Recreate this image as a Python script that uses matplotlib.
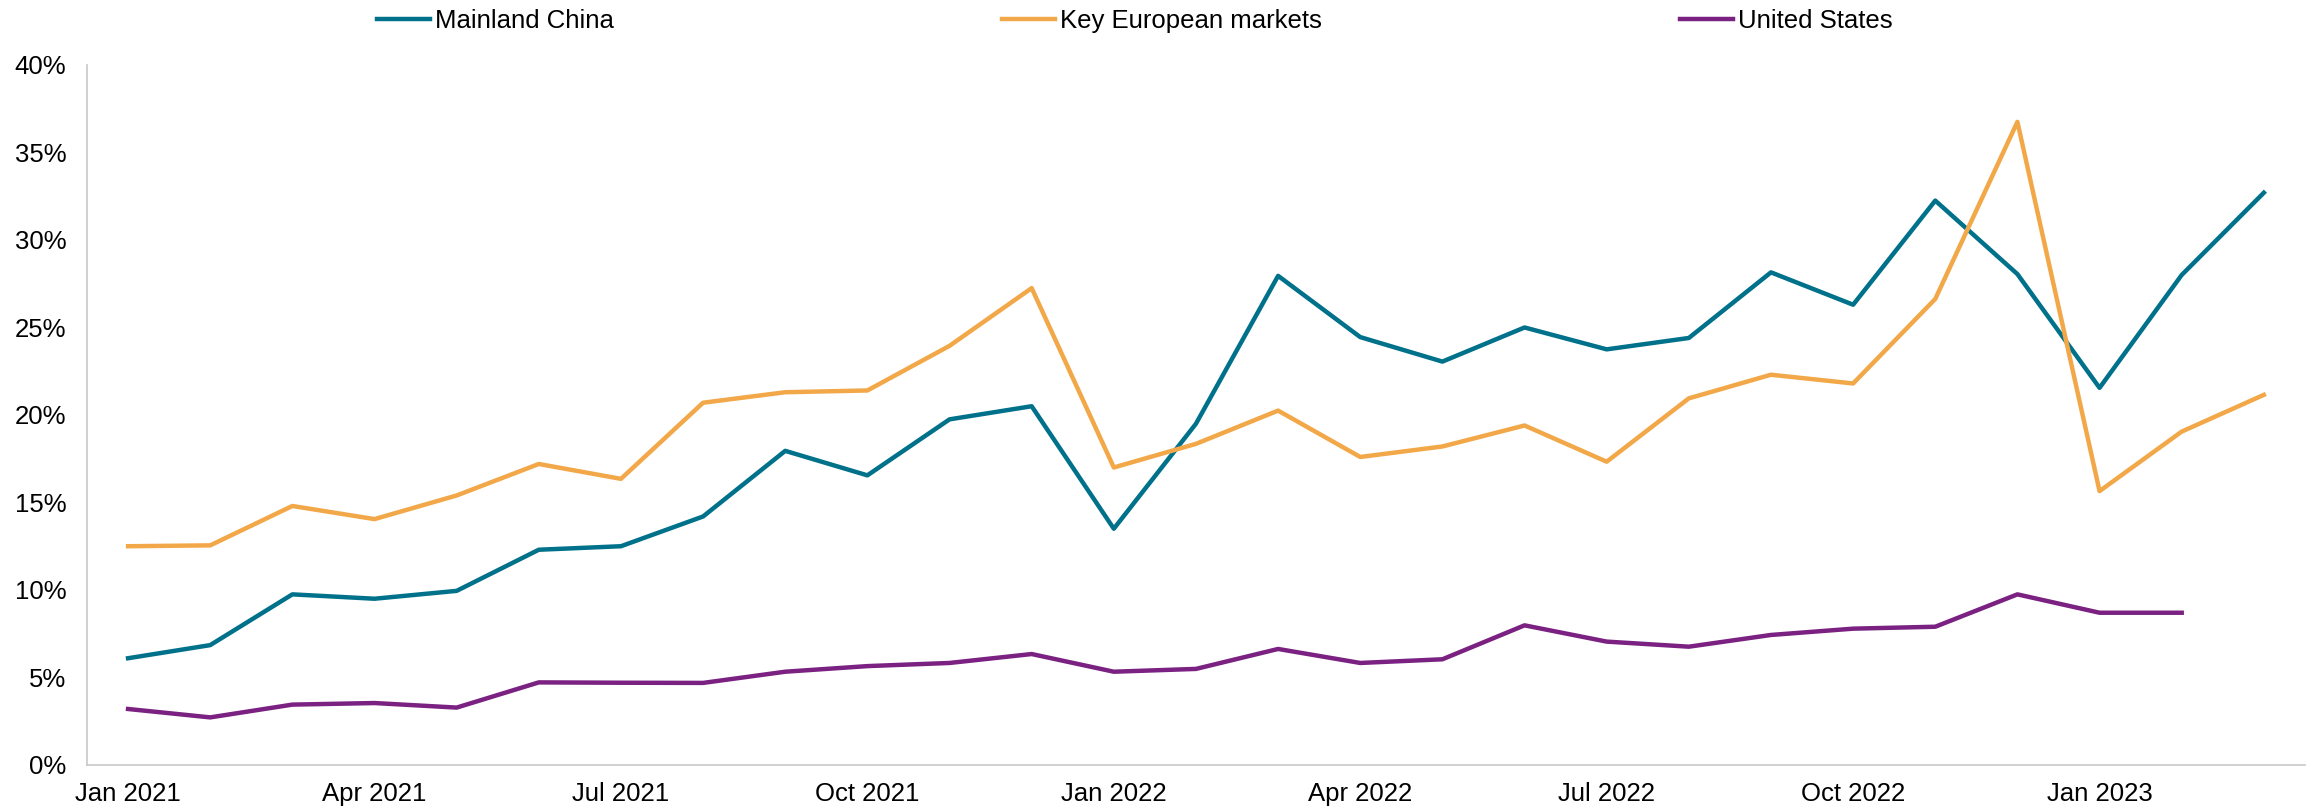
import matplotlib.pyplot as plt
from matplotlib.ticker import FuncFormatter

plt.rcParams['font.family'] = ['Liberation Sans', 'DejaVu Sans']

# Monthly series, Jan 2021 - Mar 2023 (percent)
months = ['Jan 2021', 'Feb 2021', 'Mar 2021', 'Apr 2021', 'May 2021', 'Jun 2021',
          'Jul 2021', 'Aug 2021', 'Sep 2021', 'Oct 2021', 'Nov 2021', 'Dec 2021',
          'Jan 2022', 'Feb 2022', 'Mar 2022', 'Apr 2022', 'May 2022', 'Jun 2022',
          'Jul 2022', 'Aug 2022', 'Sep 2022', 'Oct 2022', 'Nov 2022', 'Dec 2022',
          'Jan 2023', 'Feb 2023', 'Mar 2023']

china = [6.1, 6.85, 9.75, 9.5, 9.95, 12.3, 12.5, 14.2, 17.95, 16.55, 19.75, 20.5,
         13.5, 19.5, 27.95, 24.45, 23.05, 25.0, 23.75, 24.4, 28.15, 26.3, 32.25,
         28.05, 21.55, 28.0, 32.7]

europe = [12.5, 12.55, 14.8, 14.05, 15.4, 17.2, 16.35, 20.7, 21.3, 21.4, 23.95, 27.25,
          17.0, 18.35, 20.25, 17.6, 18.2, 19.4, 17.33, 20.95, 22.3, 21.8, 26.63,
          36.75, 15.65, 19.05, 21.15]

usa = [3.2, 2.72, 3.45, 3.54, 3.28, 4.72, 4.7, 4.69, 5.33, 5.65, 5.83, 6.34,
       5.33, 5.49, 6.63, 5.83, 6.04, 7.98, 7.05, 6.76, 7.43, 7.79, 7.9, 9.75,
       8.7, 8.7]

tick_labels = ['Jan 2021', 'Apr 2021', 'Jul 2021', 'Oct 2021', 'Jan 2022',
               'Apr 2022', 'Jul 2022', 'Oct 2022', 'Jan 2023']

fig = plt.figure(figsize=(23.2, 8.09), dpi=100)
ax = fig.add_axes([0.0375, 0.0544, 0.956, 0.8653])

x = list(range(len(months)))
l1, = ax.plot(x, china, color='#00718A', lw=3.2, label='Mainland China')
l2, = ax.plot(x, europe, color='#F2A848', lw=3.2, label='Key European markets')
l3, = ax.plot(x[:len(usa)], usa, color='#7A2182', lw=3.2, label='United States')

ax.set_xlim(-0.5, len(months) - 0.5)
ax.set_ylim(0, 40)
ax.set_yticks(range(0, 41, 5))
ax.yaxis.set_major_formatter(FuncFormatter(lambda v, p: f'{v:.0f}%'))
ax.set_xticks([months.index(m) for m in tick_labels])
ax.set_xticklabels(tick_labels)

for side in ['top', 'right']:
    ax.spines[side].set_visible(False)
for side in ['left', 'bottom']:
    ax.spines[side].set_color('#C8C8C8')
    ax.spines[side].set_linewidth(1.2)
ax.tick_params(axis='both', length=0, labelsize=18.5, colors='black')
ax.tick_params(axis='y', pad=15)
ax.tick_params(axis='x', pad=12)

# legend entries spread across the top
for line, x0 in [(l1, 377), (l2, 1002), (l3, 1680)]:
    fig.legend(handles=[line], loc='center left',
               bbox_to_anchor=(x0 / 2320, 1 - 21 / 809),
               frameon=False, fontsize=18.5, handlelength=2.05,
               handletextpad=0.2, borderpad=0, borderaxespad=0)

fig.savefig('out.png', dpi=100)
